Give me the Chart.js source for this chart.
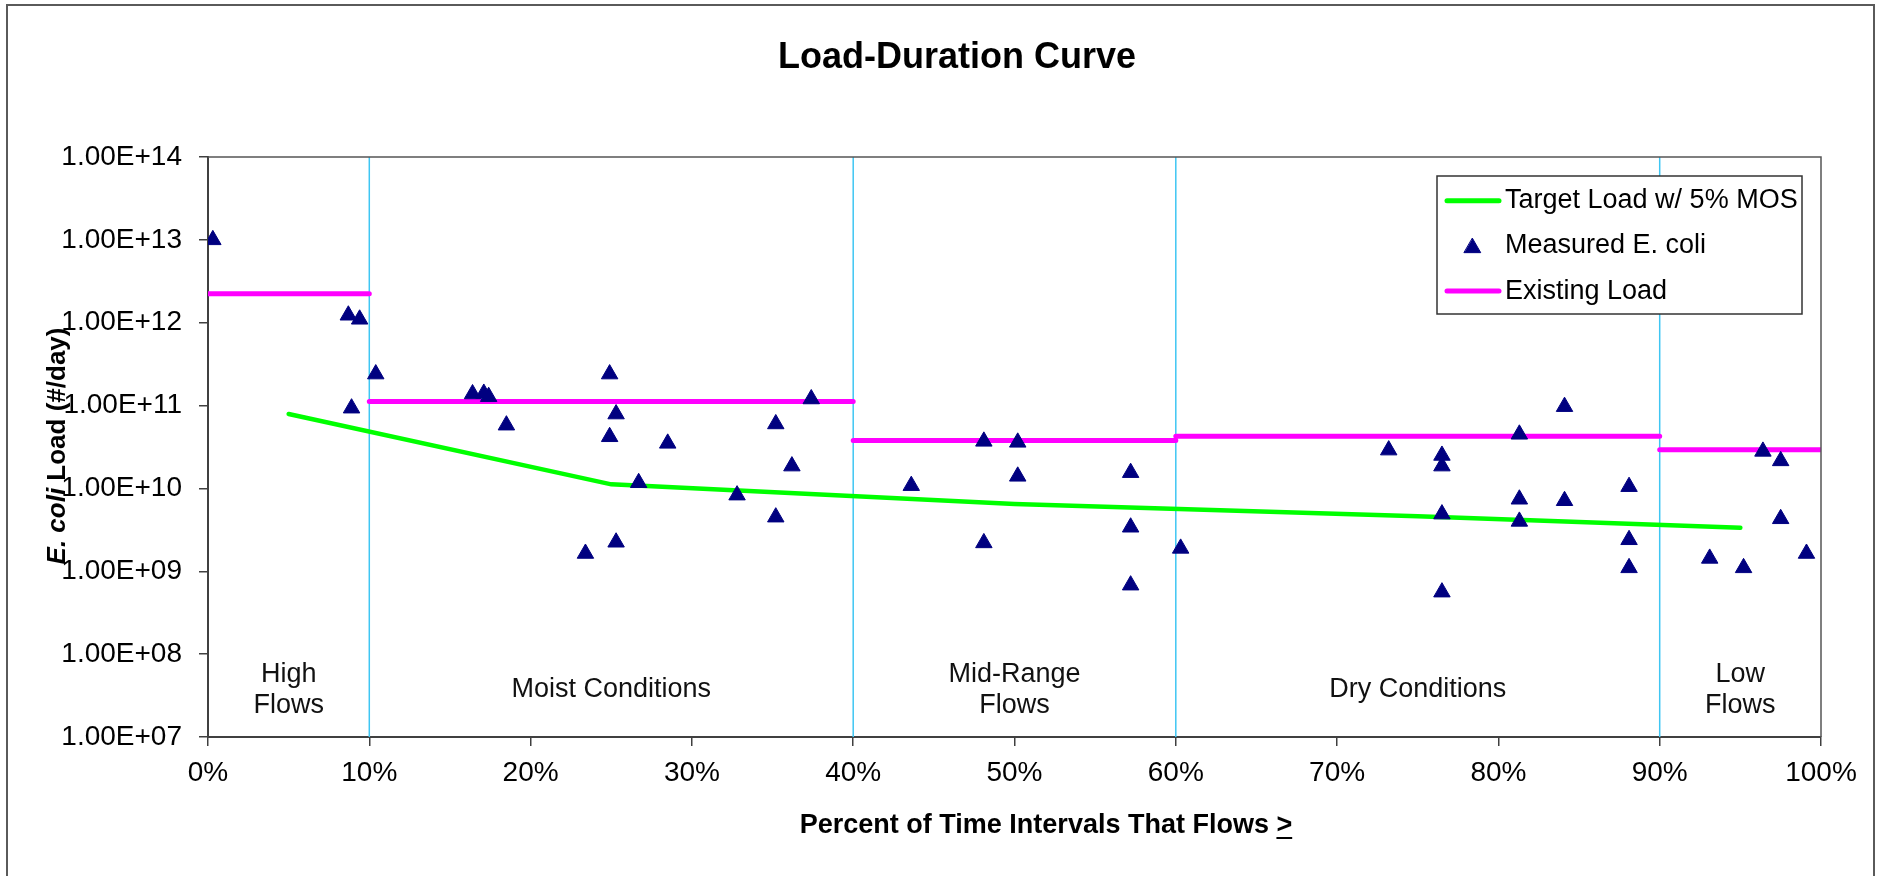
<!DOCTYPE html>
<html lang="en">
<head>
<meta charset="UTF-8">
<title>Load-Duration Curve</title>
<script src="https://cdn.jsdelivr.net/npm/chart.js@4.4.1/dist/chart.umd.min.js"></script>
<style>
  html, body { margin: 0; padding: 0; background: #fff; }
  #wrap { width: 1881px; height: 876px; }
</style>
</head>
<body>
<div id="wrap"><canvas id="ldc" width="1881" height="876"></canvas></div>
<script>
// flow duration zones (percent of time) and their labels
const zoneBounds = [0, 10, 40, 60, 90, 100];
const zoneLabels = [['High', 'Flows'], ['Moist Conditions'], ['Mid-Range', 'Flows'], ['Dry Conditions'], ['Low', 'Flows']];

// existing load, one value per zone (#/day)
const existingLoad = [2.23e12, 1.12e11, 3.8e10, 4.26e10, 2.93e10];

// target load w/ 5% MOS at the zone midpoints
const targetX = [5, 25, 50, 75, 95];
const targetLoad = [7.9e10, 1.12e10, 6.5e9, 4.6e9, 3.35e9];

// measured E. coli samples
const measuredX = [0.3, 8.7, 9.4, 8.9, 10.4, 16.4, 17.1, 17.4, 18.5, 23.4,
  24.9, 24.9, 25.3, 25.3, 26.7, 28.5, 32.8, 35.2, 35.2, 36.2,
  37.4, 43.6, 48.1, 48.1, 50.2, 50.2, 57.2, 57.2, 57.2, 60.3,
  73.2, 76.5, 76.5, 76.5, 76.5, 81.3, 81.3, 81.3, 84.1, 84.1,
  88.1, 88.1, 88.1, 93.1, 95.2, 96.4, 97.5, 97.5, 99.1];
const measuredLoad = [1.0e13, 1.23e12, 1.1e12, 9.3e10, 2.4e11, 1.38e11, 1.4e11, 1.28e11, 5.8e10, 1.64e9,
  2.4e11, 4.2e10, 7.9e10, 2.24e9, 1.17e10, 3.5e10, 8.3e9, 6.0e10, 4.5e9, 1.86e10,
  1.2e11, 1.08e10, 3.7e10, 2.2e9, 3.6e10, 1.4e10, 1.55e10, 3.4e9, 6.8e8, 1.89e9,
  2.9e10, 2.5e10, 1.86e10, 4.9e9, 5.6e8, 4.5e10, 7.4e9, 4.0e9, 9.7e10, 7.1e9,
  1.05e10, 2.4e9, 1.1e9, 1.43e9, 1.1e9, 2.8e10, 2.15e10, 4.3e9, 1.64e9];

const yTicks = [1e7, 1e8, 1e9, 1e10, 1e11, 1e12, 1e13, 1e14];

const FONT = '"Liberation Sans", Arial, sans-serif';

// "1.00E+07" style labels
function sciLabel(v) {
  const e = Math.floor(Math.log10(v) + 1e-9);
  const m = v / Math.pow(10, e);
  return m.toFixed(2) + 'E+' + String(e).padStart(2, '0');
}

// existing load is one step per zone, with gaps between zones
const existingPts = [];
existingLoad.forEach((v, i) => {
  existingPts.push({ x: zoneBounds[i], y: v }, { x: zoneBounds[i + 1], y: v }, { x: zoneBounds[i + 1], y: null });
});

const boundaryLines = zoneBounds.slice(1, -1).map(b => ({
  label: '',
  data: [{ x: b, y: yTicks[0] }, { x: b, y: yTicks[yTicks.length - 1] }],
  showLine: true,
  borderColor: '#3fc6f3',
  borderWidth: 1.5,
  pointRadius: 0,
  order: 3
}));

const decorations = {
  id: 'decorations',
  beforeDraw(chart) {
    const ctx = chart.ctx;
    ctx.save();
    ctx.strokeStyle = '#5a5a5a';
    ctx.lineWidth = 2;
    ctx.beginPath();
    ctx.moveTo(7, 900); ctx.lineTo(7, 5); ctx.lineTo(1874, 5); ctx.lineTo(1874, 900);
    ctx.stroke();
    ctx.restore();
  },
  afterDatasetsDraw(chart) {
    const { ctx, chartArea: a, scales } = chart;
    ctx.save();
    // top and right edges of the plot area
    ctx.strokeStyle = '#555';
    ctx.lineWidth = 1.5;
    ctx.beginPath();
    ctx.moveTo(a.left, a.top); ctx.lineTo(a.right, a.top); ctx.lineTo(a.right, a.bottom);
    ctx.stroke();

    // zone names along the bottom
    ctx.fillStyle = '#111';
    ctx.font = '27px ' + FONT;
    ctx.textAlign = 'center';
    ctx.textBaseline = 'middle';
    zoneLabels.forEach((lines, i) => {
      const cx = scales.x.getPixelForValue((zoneBounds[i] + zoneBounds[i + 1]) / 2);
      const cy = a.bottom - 47;
      lines.forEach((t, j) => ctx.fillText(t, cx, cy + (j - (lines.length - 1) / 2) * 31.7));
    });
    ctx.restore();
  },
  afterDraw(chart) {
    const ctx = chart.ctx;
    ctx.save();
    ctx.fillStyle = '#000';
    ctx.textBaseline = 'middle';

    // chart title
    ctx.font = 'bold 36px ' + FONT;
    ctx.textAlign = 'center';
    ctx.fillText('Load-Duration Curve', 957, 58);

    // x axis title, with the ">" underlined
    ctx.font = 'bold 27px ' + FONT;
    ctx.textAlign = 'left';
    const t1 = 'Percent of Time Intervals That Flows ';
    const w1 = ctx.measureText(t1).width;
    const w2 = ctx.measureText('>').width;
    const x0 = 1046 - (w1 + w2) / 2;
    ctx.fillText(t1, x0, 826);
    ctx.fillText('>', x0 + w1, 826);
    ctx.fillRect(x0 + w1, 837, w2, 2);

    // y axis title, rotated
    ctx.translate(57.5, 446);
    ctx.rotate(-Math.PI / 2);
    ctx.font = 'italic bold 26px ' + FONT;
    const p1 = 'E. coli';
    const pw1 = ctx.measureText(p1).width;
    ctx.font = 'bold 26px ' + FONT;
    const p2 = ' Load (#/day)';
    const pw2 = ctx.measureText(p2).width;
    const sx = -(pw1 + pw2) / 2;
    ctx.font = 'italic bold 26px ' + FONT;
    ctx.fillText(p1, sx, 0);
    ctx.font = 'bold 26px ' + FONT;
    ctx.fillText(p2, sx + pw1, 0);
    ctx.setTransform(1, 0, 0, 1, 0, 0);

    // legend box
    const lx = 1437, ly = 176, lw = 365, lh = 138;
    ctx.fillStyle = '#fff';
    ctx.fillRect(lx, ly, lw, lh);
    ctx.strokeStyle = '#333';
    ctx.lineWidth = 1.5;
    ctx.strokeRect(lx, ly, lw, lh);
    const items = chart.data.datasets.filter(d => d.legendRank != null)
      .sort((p, q) => p.legendRank - q.legendRank);
    items.forEach((d, i) => {
      const cy = 200.7 + i * 45.2;
      if (d.showLine) {
        ctx.strokeStyle = d.borderColor;
        ctx.lineWidth = 5;
        ctx.lineCap = 'round';
        ctx.beginPath(); ctx.moveTo(1447, cy); ctx.lineTo(1499, cy); ctx.stroke();
      } else {
        ctx.fillStyle = d.backgroundColor;
        ctx.strokeStyle = d.borderColor;
        ctx.lineWidth = 1;
        Chart.helpers.drawPoint(ctx, { pointStyle: 'triangle', radius: d.pointRadius, borderWidth: 1 }, 1472.5, cy + 2);
      }
      ctx.fillStyle = '#000';
      ctx.font = '27px ' + FONT;
      ctx.textAlign = 'left';
      ctx.fillText(d.label, 1505, cy);
    });
    ctx.restore();
  }
};

new Chart(document.getElementById('ldc'), {
  type: 'scatter',
  data: {
    datasets: [
      {
        label: 'Measured E. coli',
        data: measuredX.map((x, i) => ({ x, y: measuredLoad[i] })),
        pointStyle: 'triangle',
        pointRadius: 9.5,
        pointHoverRadius: 9.5,
        pointBorderWidth: 1,
        backgroundColor: '#000080',
        borderColor: '#000080',
        showLine: false,
        order: 0,
        legendRank: 1
      },
      {
        label: 'Target Load w/ 5% MOS',
        data: targetX.map((x, i) => ({ x, y: targetLoad[i] })),
        showLine: true,
        borderColor: '#00ff00',
        backgroundColor: '#00ff00',
        borderWidth: 4.5,
        borderCapStyle: 'round',
        pointRadius: 0,
        order: 1,
        legendRank: 0
      },
      {
        label: 'Existing Load',
        data: existingPts,
        showLine: true,
        spanGaps: false,
        borderColor: '#ff00ff',
        backgroundColor: '#ff00ff',
        borderWidth: 5,
        borderCapStyle: 'round',
        pointRadius: 0,
        order: 2,
        legendRank: 2
      },
      ...boundaryLines
    ]
  },
  options: {
    responsive: false,
    animation: false,
    events: [],
    layout: { padding: { left: 0, right: 60, top: 157, bottom: 0 } },
    plugins: {
      legend: { display: false },
      title: { display: false },
      tooltip: { enabled: false }
    },
    scales: {
      x: {
        type: 'linear',
        min: 0,
        max: 100,
        ticks: {
          stepSize: 10,
          maxRotation: 0,
          padding: 10,
          color: '#000',
          font: { family: FONT, size: 28 },
          callback: v => v + '%'
        },
        grid: { drawOnChartArea: false, drawTicks: true, tickLength: 9, color: '#404040', lineWidth: 1.5 },
        border: { color: '#404040', width: 2 },
        afterFit: s => { s.height = 139; }
      },
      y: {
        type: 'logarithmic',
        min: yTicks[0],
        max: yTicks[yTicks.length - 1],
        afterBuildTicks: s => { s.ticks = yTicks.map(v => ({ value: v })); },
        ticks: {
          padding: 17,
          color: '#000',
          font: { family: FONT, size: 28 },
          callback: v => sciLabel(v)
        },
        grid: { drawOnChartArea: false, drawTicks: true, tickLength: 9, color: '#404040', lineWidth: 1.5 },
        border: { color: '#404040', width: 2 },
        afterFit: s => { s.width = 208; }
      }
    }
  },
  plugins: [decorations]
});
</script>
</body>
</html>
